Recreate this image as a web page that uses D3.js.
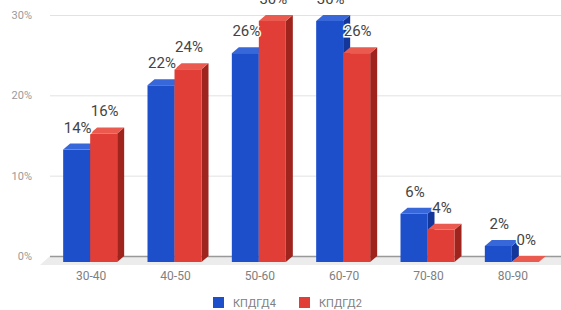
<!DOCTYPE html>
<html lang="en">
<head>
<meta charset="UTF-8">
<title>chart</title>
<script src="https://d3js.org/d3.v7.min.js"></script>
<style>
body { margin: 0; background: #fff; }
text { font-family: Roboto, "Noto Sans", sans-serif; }
</style>
</head>
<body>
<div id="container"></div>
<script>
// data
const categories = ["30-40", "40-50", "50-60", "60-70", "70-80", "80-90"];
const seriesNames = ["КПДГД4", "КПДГД2"];
const kpdgd4 = [14, 22, 26, 30, 6, 2];
const kpdgd2 = [16, 24, 30, 26, 4, 0];
const yTicks = [0, 10, 20, 30];

const width = 561, height = 310;
const dx = 7, dy = -6;      // 3d depth
const barW = 27;

const colors = [
  { front: "#1d4fcb", top: "#3867d9", side: "#12369a" },
  { front: "#e03e36", top: "#ea5a4f", side: "#9e241d" }
];

const svg = d3.select("#container").append("svg")
  .attr("width", width).attr("height", height);

const x = d3.scaleBand().domain(categories).range([48, 554]);
const yBack = d3.scaleLinear().domain([0, 30]).range([256, 15]);
const yFront = v => yBack(v) - dy;

// floor
svg.append("polygon")
  .attr("points", [[40, yFront(0) + 3], [561, yFront(0) + 3], [561, yBack(0)], [50, yBack(0)]].join(" "))
  .attr("fill", "#ececec");

// grid + y labels
const yAxis = svg.append("g")
  .attr("transform", "translate(50,0)")
  .call(d3.axisLeft(yBack).tickValues(yTicks).tickSize(-(width - 50)).tickFormat(d => d + "%"));
yAxis.select(".domain").remove();
yAxis.selectAll(".tick line").attr("stroke", d => d === 0 ? "#999" : "#e2e2e2").attr("stroke-width", d => d === 0 ? 1.5 : 1);
yAxis.selectAll(".tick text").attr("x", -18).attr("fill", "#9a9a9a").attr("font-size", 11);

// bars
const series = [kpdgd4, kpdgd2];
const bars = [];
series.forEach((vals, s) => {
  vals.forEach((v, i) => {
    const cx = x(categories[i]) + x.bandwidth() / 2;
    bars.push({ s, v, x0: cx - barW + s * barW });
  });
});

const g = svg.append("g");
const bar = g.selectAll("g.bar").data(bars).join("g").attr("class", "bar");

bar.append("polygon")
  .attr("points", d => {
    const yt = yFront(d.v), yb = yFront(0), xr = d.x0 + barW;
    return [[xr, yt], [xr + dx, yt + dy], [xr + dx, yb + dy], [xr, yb]].join(" ");
  })
  .attr("fill", d => colors[d.s].side);
bar.append("rect")
  .attr("x", d => d.x0).attr("width", barW)
  .attr("y", d => yFront(d.v)).attr("height", d => yFront(0) - yFront(d.v))
  .attr("fill", d => colors[d.s].front);
bar.append("polygon")
  .attr("points", d => {
    const yt = yFront(d.v);
    return [[d.x0, yt], [d.x0 + dx, yt + dy], [d.x0 + barW + dx, yt + dy], [d.x0 + barW, yt]].join(" ");
  })
  .attr("fill", d => colors[d.s].top);

// value labels
svg.append("g").selectAll("text").data(bars).join("text")
  .attr("x", d => d.x0 + barW / 2 + 1)
  .attr("y", d => yFront(d.v) - 17)
  .attr("text-anchor", "middle")
  .attr("font-size", 15)
  .attr("fill", "#444")
  .attr("stroke", "#fff").attr("stroke-width", 3).attr("paint-order", "stroke")
  .text(d => d.v + "%");

// x labels
const xAxis = svg.append("g")
  .attr("transform", "translate(1,268)")
  .call(d3.axisBottom(x).tickSize(0));
xAxis.select(".domain").remove();
xAxis.selectAll(".tick text").attr("fill", "#808080").attr("font-size", 12);

// legend
const legend = svg.append("g").selectAll("g").data(seriesNames).join("g")
  .attr("transform", (d, i) => `translate(${213 + i * 86},297)`);
legend.append("rect").attr("width", 11).attr("height", 11)
  .attr("fill", (d, i) => colors[i].front);
legend.append("text").attr("x", 20).attr("y", 10)
  .attr("font-size", 11).attr("fill", "#808080")
  .text(d => d);
</script>
</body>
</html>
